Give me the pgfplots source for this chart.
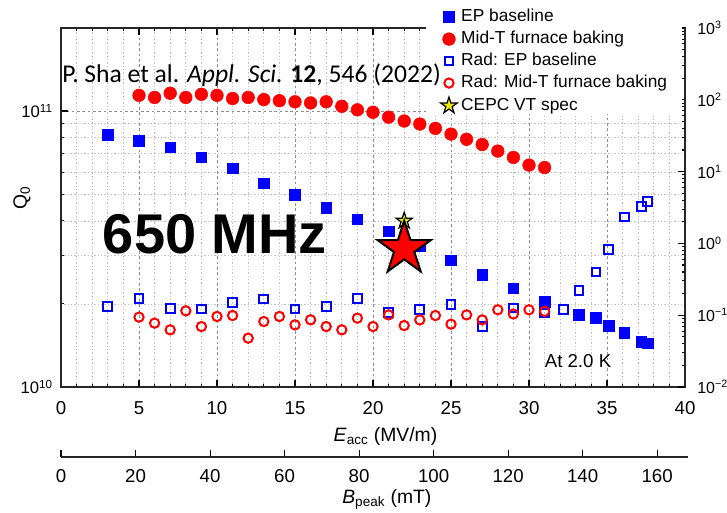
\documentclass[border=0pt]{standalone}
\usepackage{pgfplots}
\pgfplotsset{compat=1.18}
\usepackage{fontspec}
\setmainfont{Liberation Sans}
\newfontfamily\calibri{Carlito}
\definecolor{mblue}{RGB}{0,0,255}
\definecolor{mred}{RGB}{255,0,0}
\definecolor{myellow}{RGB}{235,235,20}
\definecolor{gridmaj}{RGB}{140,140,140}
\definecolor{gridmin}{RGB}{195,195,195}
\pgfdeclareplotmark{fstar}{%
  \pgfpathmoveto{\pgfpointpolar{90}{\pgfplotmarksize}}%
  \pgfpathlineto{\pgfpointpolar{126}{0.382*\pgfplotmarksize}}%
  \pgfpathlineto{\pgfpointpolar{162}{\pgfplotmarksize}}%
  \pgfpathlineto{\pgfpointpolar{198}{0.382*\pgfplotmarksize}}%
  \pgfpathlineto{\pgfpointpolar{234}{\pgfplotmarksize}}%
  \pgfpathlineto{\pgfpointpolar{270}{0.382*\pgfplotmarksize}}%
  \pgfpathlineto{\pgfpointpolar{306}{\pgfplotmarksize}}%
  \pgfpathlineto{\pgfpointpolar{342}{0.382*\pgfplotmarksize}}%
  \pgfpathlineto{\pgfpointpolar{18}{\pgfplotmarksize}}%
  \pgfpathlineto{\pgfpointpolar{54}{0.382*\pgfplotmarksize}}%
  \pgfpathclose
  \pgfusepathqfillstroke
}
\begin{document}
\begin{tikzpicture}
\useasboundingbox (0,0) rectangle (545.25pt,384pt);
% ---------------- main (left) axis ----------------
\begin{axis}[
  at={(45.75pt,93.75pt)}, anchor=south west,
  scale only axis, width=468pt, height=269.25pt,
  xmin=0, xmax=40, ymode=log, ymin=1e10, ymax=2e11,
  xtick={0,5,...,40}, minor x tick num=4,
  ytick={1e10,1e11}, yticklabels={10\textsuperscript{10},10\textsuperscript{11}},
  minor ytick={2e10,3e10,4e10,5e10,6e10,7e10,8e10,9e10,2e11},
  ytick pos=left, xtick pos=both,
  tick align=inside, major tick length=5pt, minor tick length=2.5pt,
  every tick/.style={black, line width=0.8pt},
  axis line style={black!85, line width=1.2pt},
  xmajorgrids, xminorgrids, ymajorgrids, yminorgrids,
  major grid style={gridmaj, line width=0.6pt, dash pattern=on 2pt off 2pt},
  minor grid style={gridmin, line width=0.5pt, dash pattern=on 1pt off 1.5pt},
  /pgf/number format/assume math mode=true,
  xticklabel style={font=\fontsize{14}{16}\selectfont, anchor=north, inner sep=0pt, yshift=-11pt},
  yticklabel style={font=\fontsize{12.5}{14}\selectfont, anchor=east, inner sep=0pt, xshift=-6pt},
  xlabel={\textit{E}\textsubscript{acc} (MV/m)},
  ylabel={Q\textsubscript{0}},
  every axis x label/.style={at={(axis description cs:0.52,0)}, anchor=center, yshift=-37pt, font=\fontsize{14.5}{16}\selectfont},
  every axis y label/.style={at={(axis description cs:-0.0625,0.526)}, anchor=center, rotate=90, font=\fontsize{14.5}{16}\selectfont},
]
% EP baseline
\addplot[only marks, mark=square*, mark size=4pt, mark options={draw=mblue, fill=mblue}] coordinates {
(3,8.2e10)(5,7.8e10)(7,7.4e10)(9,6.8e10)(11,6.2e10)(13,5.47e10)(15,4.98e10)(17,4.47e10)(19,4.05e10)(21,3.67e10)(23,3.24e10)(25,2.88e10)(27,2.55e10)(29,2.28e10)(31,2.04e10)(33.2,1.83e10)(34.3,1.78e10)(35.1,1.67e10)(36.1,1.57e10)(37.2,1.46e10)(37.6,1.44e10)
};
% Mid-T furnace baking
\addplot[only marks, mark=*, mark size=4.75pt, mark options={draw=mred, fill=mred}] coordinates {
(5,1.14e11)(6,1.12e11)(7,1.16e11)(8,1.12e11)(9,1.15e11)(10,1.14e11)(11,1.11e11)(12,1.12e11)(13,1.10e11)(14,1.09e11)(15,1.08e11)(16,1.07e11)(17,1.08e11)(18,1.04e11)(19,1.01e11)(20,9.9e10)(21,9.5e10)(22,9.2e10)(23,8.97e10)(24,8.65e10)(25,8.25e10)(26,7.9e10)(27,7.56e10)(28,7.16e10)(29,6.79e10)(30,6.37e10)(31,6.24e10)
};
% CEPC VT spec
\addplot[only marks, mark=fstar, mark size=6.5pt, mark options={draw=black, fill=myellow, line width=0.9pt}] coordinates {(22,4.0e10)};
% big red star
\addplot[only marks, mark=fstar, mark size=21pt, mark options={draw=black, fill=mred, line width=1.5pt, line join=miter}] coordinates {(22,3.17e10)};
\end{axis}
% ---------------- right axis (radiation) ----------------
\begin{axis}[
  at={(45.75pt,93.75pt)}, anchor=south west,
  scale only axis, width=468pt, height=269.25pt,
  xmin=0, xmax=40, ymode=log, ymin=1e-2, ymax=1e3,
  axis x line=none, axis y line*=right,
  ytick={1e-2,1e-1,1,10,100,1000},
  yticklabels={10\textsuperscript{−2},10\textsuperscript{−1},10\textsuperscript{0},10\textsuperscript{1},10\textsuperscript{2},10\textsuperscript{3}},
  minor ytick={0.02,0.03,0.04,0.05,0.06,0.07,0.08,0.09,0.2,0.3,0.4,0.5,0.6,0.7,0.8,0.9,2,3,4,5,6,7,8,9,20,30,40,50,60,70,80,90,200,300,400,500,600,700,800,900},
  tick align=inside, major tick length=5pt, minor tick length=2.5pt,
  every tick/.style={black, line width=0.8pt},
  axis line style={black!85, line width=1.2pt},
  yticklabel style={font=\fontsize{12}{14}\selectfont, anchor=west, inner sep=0pt, xshift=9pt},
  legend style={at={(axis description cs:0.9952,1.0535)}, anchor=north east,
    draw=none, fill=white, inner xsep=11pt, inner ysep=0pt,
    font=\fontsize{13}{15}\selectfont, row sep=4.5pt, column sep=3pt,
    nodes={inner sep=0pt, text height=9.5pt, text depth=2.5pt}},
  legend cell align=left,
]
\addlegendimage{only marks, mark=square*, mark size=4pt, mark options={draw=mblue, fill=mblue}}
\addlegendentry{EP baseline}
\addlegendimage{only marks, mark=*, mark size=4.75pt, mark options={draw=mred, fill=mred}}
\addlegendentry{Mid-T furnace baking}
% Rad: EP baseline
\addplot[only marks, mark=square, mark size=3.26pt, mark options={draw=mblue, line width=1.5pt}] coordinates {
(3,0.132)(5,0.169)(7,0.123)(9,0.122)(11,0.152)(13,0.168)(15,0.122)(17,0.132)(19,0.169)(21,0.109)(23,0.119)(25,0.140)(27,0.0695)(29,0.126)(31,0.107)(32.2,0.119)(33.2,0.221)(34.3,0.40)(35.1,0.82)(36.1,2.34)(37.2,3.3)(37.6,3.87)
};
\addlegendentry{Rad: EP baseline}
% Rad: Mid-T furnace baking
\addplot[only marks, mark=o, mark size=3.5pt, mark options={draw=mred, line width=1.5pt}] coordinates {
(5,0.094)(6,0.0776)(7,0.0625)(8,0.115)(9,0.0695)(10,0.096)(11,0.099)(12,0.0479)(13,0.0817)(14,0.096)(15,0.0734)(16,0.0863)(17,0.0695)(18,0.0625)(19,0.091)(20,0.0695)(21,0.101)(22,0.0718)(23,0.086)(24,0.099)(25,0.075)(26,0.101)(27,0.086)(28,0.119)(29,0.104)(30,0.119)(31,0.113)
};
\addlegendentry{Rad: Mid-T furnace baking}
\addlegendimage{only marks, mark=fstar, mark size=6.5pt, mark options={draw=black, fill=myellow, line width=0.9pt}}
\addlegendentry{CEPC VT spec}
\end{axis}
% ---------------- second x axis (B_peak) ----------------
\begin{axis}[
  at={(45.75pt,41.25pt)}, anchor=south west,
  scale only axis, width=470pt, height=20pt,
  xmin=0, xmax=168.2, ymin=0, ymax=1,
  axis x line=bottom, axis y line=none,
  axis line style={-, black!85, line width=1pt},
  xtick={0,20,...,160},
  tick align=inside, major tick length=5pt,
  every tick/.style={black, line width=0.8pt},
  /pgf/number format/assume math mode=true,
  xticklabel style={font=\fontsize{14}{16}\selectfont, anchor=north, inner sep=0pt, yshift=-9pt},
  xlabel={\textit{B}\textsubscript{peak} (mT)},
  every axis x label/.style={at={(axis description cs:0.52,0)}, anchor=center, yshift=-32pt, font=\fontsize{14.5}{16}\selectfont},
]
\end{axis}
% ---------------- annotations ----------------
\node[anchor=west, inner sep=0pt, font=\calibri\fontsize{19.2}{22}\selectfont] at (46.5pt,327.75pt)
  {P. Sha et al. \textit{Appl. Sci.} \textbf{12}, 546 (2022)};
\node[inner sep=0pt, font=\fontsize{42}{46}\selectfont\bfseries] at (161.25pt,208.5pt) {650 MHz};
\node[inner sep=0pt, font=\fontsize{14}{16}\selectfont] at (433.5pt,113.25pt) {At 2.0 K};
\end{tikzpicture}
\end{document}
